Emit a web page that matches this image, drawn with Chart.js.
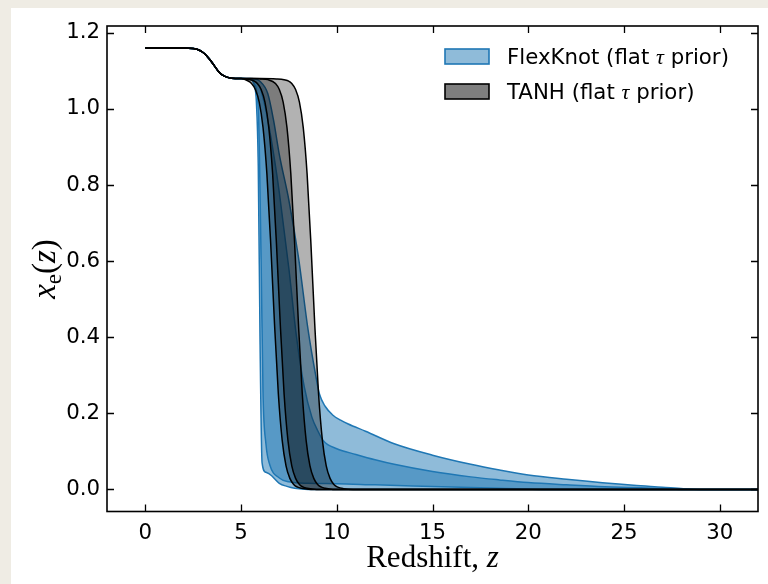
<!DOCTYPE html>
<html>
<head>
<meta charset="utf-8">
<script src="https://cdn.jsdelivr.net/npm/chart.js@4.4.1/dist/chart.umd.min.js"></script>
<style>
  html, body { margin: 0; padding: 0; background: #efece4; }
  #wrap { position: absolute; left: 0; top: 0; width: 768px; height: 584px; }
</style>
</head>
<body>
<div id="wrap"><canvas id="xeChart" width="768" height="584"></canvas></div>
<script>
// axis ticks
const xTicks = [0, 5, 10, 15, 20, 25, 30]
const yTicks = [0, 0.2, 0.4, 0.6, 0.8, 1.0, 1.2]

// shared low-z part (helium step), [z, xe]
const heliumStep = [[0,1.16],[1,1.16],[2,1.16],[2.5,1.159],[2.8,1.155],[3.0,1.149],[3.2,1.14],[3.4,1.128],[3.6,1.114],[3.8,1.1],[4.0,1.09],[4.3,1.083],[4.7,1.08],[5.0,1.08]]

// TANH bands (68% / 95%)
const tanhLow95 = [[5.35,1.074],[5.55,1.067],[5.75,1.051],[5.95,1.018],[6.15,0.951],[6.35,0.830],[6.55,0.646],[6.75,0.434],[6.95,0.250],[7.15,0.129],[7.35,0.062],[7.55,0.029],[7.75,0.013],[7.95,0.006],[8.15,0.003],[8.65,0],[32,0]]
const tanhLow68 = [[5.35,1.078],[5.65,1.074],[5.85,1.067],[6.05,1.051],[6.25,1.018],[6.45,0.951],[6.65,0.830],[6.85,0.646],[7.05,0.434],[7.25,0.250],[7.45,0.129],[7.65,0.062],[7.85,0.029],[8.05,0.013],[8.25,0.006],[8.45,0.003],[8.95,0],[32,0]]
const tanhUp68 = [[5.6,1.08],[6.0,1.079],[6.4,1.077],[6.8,1.067],[7.0,1.051],[7.2,1.018],[7.4,0.951],[7.6,0.830],[7.8,0.646],[8.0,0.434],[8.2,0.250],[8.4,0.129],[8.6,0.062],[8.8,0.029],[9.0,0.013],[9.2,0.006],[9.4,0.003],[9.8,0],[32,0]]
const tanhUp95 = [[6.0,1.08],[6.85,1.079],[7.25,1.077],[7.45,1.074],[7.65,1.067],[7.85,1.051],[8.05,1.018],[8.25,0.951],[8.45,0.830],[8.65,0.646],[8.85,0.434],[9.05,0.250],[9.25,0.129],[9.45,0.062],[9.65,0.029],[9.85,0.013],[10.05,0.006],[10.35,0.002],[10.85,0],[32,0]]

// FlexKnot bands (68% / 95%)
const flexLow95 = [[5.5,1.078],[5.7,1.06],[5.8,1.02],[5.9,0.85],[6.0,0.36],[6.1,0.07],[6.3,0.045],[6.6,0.036],[6.75,0.028],[7.0,0.016],[7.4,0.008],[7.8,0.003],[8.5,0],[32,0]]
const flexLow68 = [[5.5,1.077],[5.7,1.065],[5.9,1.0],[6.05,0.6],[6.15,0.25],[6.3,0.12],[6.5,0.065],[7.0,0.03],[7.5,0.02],[8.5,0.016],[10,0.015],[12,0.012],[15,0.008],[18,0.004],[20,0.001],[21,0],[32,0]]
const flexUp68 = [[5.5,1.079],[5.8,1.07],[6.0,1.055],[6.4,0.97],[6.8,0.85],[7.0,0.78],[7.5,0.58],[7.9,0.4],[8.3,0.27],[8.7,0.19],[9.0,0.155],[9.3,0.128],[10,0.107],[11,0.092],[12,0.078],[13,0.066],[15,0.047],[17,0.033],[18.5,0.025],[20,0.018],[22,0.012],[24,0.007],[25.5,0.005],[27,0.002],[28.5,0],[32,0]]
const flexUp95 = [[5.5,1.08],[6.0,1.072],[6.4,1.04],[6.7,0.97],[7.0,0.88],[7.5,0.76],[8.0,0.61],[8.5,0.42],[8.9,0.3],[9.1,0.25],[9.4,0.218],[9.8,0.195],[10.2,0.182],[10.6,0.172],[11.5,0.153],[13,0.12],[15,0.09],[17,0.066],[18.5,0.051],[20,0.038],[22,0.027],[25.5,0.011],[27,0.006],[28.1,0.002],[29,0],[32,0]]

const blue = '#1f77b4'
const blueFill = 'rgba(31,119,180,0.5)'
const grayFill = 'rgba(0,0,0,0.3)'
const sans = '"DejaVu Sans", sans-serif'
const serif = '"Liberation Serif", "DejaVu Serif", serif'
const labelSize = 21.3

function band(data, color, fill, bg){
	return {
		data : heliumStep.concat(data)
		,borderColor : color
		,borderWidth : 1.5
		,backgroundColor : bg || 'transparent'
		,fill : fill
		,pointRadius : 0
		,cubicInterpolationMode : 'monotone'
	}
}

/* text made of pieces with different fonts */
function runsWidth(c, runs){
	let w = 0
	for(const r of runs){ c.font = r.font; w += c.measureText(r.text).width }
	return w
}
function drawRuns(c, runs, x, y){
	for(const r of runs){
		c.font = r.font
		c.fillText(r.text, x, y + (r.dy || 0))
		x += c.measureText(r.text).width
	}
}

const decor = {
	id : 'decor'
	,beforeDraw(chart){
		const c = chart.ctx
		c.save()
		c.fillStyle = '#efece4'
		c.fillRect(0, 0, chart.width, chart.height)
		c.fillStyle = '#ffffff'
		c.fillRect(11, 8, chart.width - 11, chart.height - 8)
		c.restore()
	}
	,afterDraw(chart){
		const c = chart.ctx
		const a = chart.chartArea
		const xs = chart.scales.x, ys = chart.scales.y
		c.save()
		c.strokeStyle = '#000'
		c.lineWidth = 1.3
		// inward ticks on all four sides
		c.beginPath()
		for(const v of xTicks){
			const px = Math.round(xs.getPixelForValue(v)) + 0.5
			c.moveTo(px, a.bottom); c.lineTo(px, a.bottom - 7)
			c.moveTo(px, a.top); c.lineTo(px, a.top + 7)
		}
		for(const v of yTicks){
			const py = Math.round(ys.getPixelForValue(v)) + 0.5
			c.moveTo(a.left, py); c.lineTo(a.left + 7, py)
			c.moveTo(a.right, py); c.lineTo(a.right - 7, py)
		}
		c.stroke()
		c.lineWidth = 1.6
		c.strokeRect(a.left, a.top, a.right - a.left, a.bottom - a.top)

		// legend
		c.lineWidth = 1.6
		c.fillStyle = blueFill
		c.fillRect(445, 49, 44, 15)
		c.strokeStyle = blue
		c.strokeRect(445, 49, 44, 15)
		c.fillStyle = 'rgba(0,0,0,0.5)'
		c.fillRect(445, 84, 44, 15)
		c.strokeStyle = '#000'
		c.strokeRect(445, 84, 44, 15)
		c.fillStyle = '#000'
		c.textBaseline = 'alphabetic'
		c.textAlign = 'left'
		const lf = labelSize + 'px ' + sans
		const tau = { text : 'τ', font : 'italic 22px ' + serif }
		drawRuns(c, [{ text : 'FlexKnot (flat ', font : lf }, tau, { text : ' prior)', font : lf }], 507, 63.5)
		drawRuns(c, [{ text : 'TANH (flat ', font : lf }, tau, { text : ' prior)', font : lf }], 507, 98.5)

		// x axis title
		const xt = [{ text : 'Redshift, ', font : '31px ' + serif }, { text : 'z', font : 'italic 31px ' + serif }]
		drawRuns(c, xt, (a.left + a.right) / 2 - runsWidth(c, xt) / 2, 567)

		// y axis title
		const yt = [
			{ text : 'x', font : 'italic 33px ' + serif }
			,{ text : 'e', font : '23px ' + serif, dy : 6 }
			,{ text : '(', font : '33px ' + serif }
			,{ text : 'z', font : 'italic 33px ' + serif }
			,{ text : ')', font : '33px ' + serif }
		]
		c.translate(55, 269)
		c.rotate(-Math.PI / 2)
		drawRuns(c, yt, -runsWidth(c, yt) / 2, 0)
		c.restore()
	}
}

const ctx = document.getElementById('xeChart')
new Chart(ctx, {
	type : 'line'
	,data : {
		datasets : [
			band(tanhUp95, '#000', 3, grayFill)
			,band(tanhUp68, '#000', 2, grayFill)
			,band(tanhLow68, '#000', false)
			,band(tanhLow95, '#000', false)
			,band(flexUp95, blue, 7, blueFill)
			,band(flexUp68, blue, 6, blueFill)
			,band(flexLow68, blue, false)
			,band(flexLow95, blue, false)
		]
	}
	,options : {
		responsive : false
		,animation : false
		,devicePixelRatio : 1
		,layout : { padding : { left : 0, top : 26, right : 10, bottom : 0 } }
		,plugins : { legend : { display : false }, tooltip : { enabled : false } }
		,scales : {
			x : {
				type : 'linear'
				,min : -2
				,max : 32
				,grid : { display : false, drawTicks : false }
				,border : { display : false }
				,afterBuildTicks : s => { s.ticks = xTicks.map(v => ({ value : v })) }
				,afterFit : s => { s.height = 72.5 }
				,ticks : { color : '#000', font : { family : sans, size : labelSize }, padding : 9, autoSkip : false, maxRotation : 0 }
			}
			,y : {
				type : 'linear'
				,min : -0.058
				,max : 1.218
				,grid : { display : false, drawTicks : false }
				,border : { display : false }
				,afterBuildTicks : s => { s.ticks = yTicks.map(v => ({ value : v })) }
				,afterFit : s => { s.width = 107 }
				,ticks : { color : '#000', font : { family : sans, size : labelSize }, padding : 7, callback : v => v.toFixed(1) }
			}
		}
	}
	,plugins : [decor]
})
</script>
</body>
</html>
